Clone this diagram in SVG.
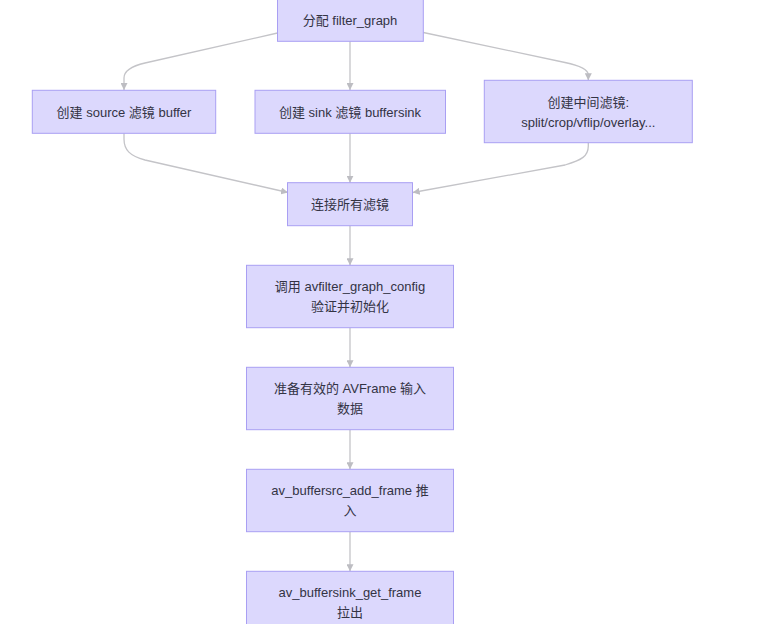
<svg xmlns="http://www.w3.org/2000/svg" width="760" height="624" viewBox="0 0 760 624">
<style>
.node rect{fill:#dcd8fd;stroke:#a99ff3;stroke-width:1}
.node text{font-family:"Liberation Sans","Noto Sans CJK SC",sans-serif;font-size:13px;fill:#333344;text-anchor:middle;dominant-baseline:central}
.edges path{fill:none;stroke:#c4c4c8;stroke-width:1.3}
</style>
<defs>
<marker id="arr" viewBox="0 0 10 10" refX="10" refY="5" markerWidth="7" markerHeight="7" markerUnits="userSpaceOnUse" orient="auto">
<path d="M0,0 L10,5 L0,10 z" fill="#bdbdc2"/>
</marker>
</defs>
<rect width="760" height="624" fill="#ffffff"/>
<g class="edges">
<path d="M277.5,33 L145,63 C130,66.5 124,71 124,78 L124,90" marker-end="url(#arr)"/>
<path d="M350,41.3 L350,90" marker-end="url(#arr)"/>
<path d="M423.3,32.5 L565,62.5 C582,66 588.3,70 588.3,75 L588.3,80.3" marker-end="url(#arr)"/>
<path d="M124,133.3 L124,139 C124,150 130,156 145,160 L288,192.5" marker-end="url(#arr)"/>
<path d="M588.3,142.7 L588.3,146 C588.3,156 582,160 565,165 L412.7,192.5" marker-end="url(#arr)"/>
<path d="M350,133.3 L350,182.7" marker-end="url(#arr)"/>
<path d="M350,225.7 L350,265.3" marker-end="url(#arr)"/>
<path d="M350,327.7 L350,367.3" marker-end="url(#arr)"/>
<path d="M350,429.7 L350,469.3" marker-end="url(#arr)"/>
<path d="M350,531.7 L350,571.3" marker-end="url(#arr)"/>
</g>
<g id="n1" class="node"><rect x="277.5" y="-1.7" width="145.8" height="43"/><text x="350" y="20">分配 filter_graph</text></g>
<g id="n2" class="node"><rect x="32.3" y="90.3" width="183.4" height="43"/><text x="124" y="112">创建 source 滤镜 buffer</text></g>
<g id="n3" class="node"><rect x="255" y="90.3" width="190.5" height="43"/><text x="350" y="112">创建 sink 滤镜 buffersink</text></g>
<g id="n4" class="node"><rect x="484.3" y="80.3" width="208" height="62.4"/><text x="588.3" y="102">创建中间滤镜:</text><text x="588.3" y="122">split/crop/vflip/overlay...</text></g>
<g id="n5" class="node"><rect x="287.5" y="182.7" width="125" height="43"/><text x="350" y="204.5">连接所有滤镜</text></g>
<g id="n6" class="node"><rect x="246.5" y="265.3" width="207" height="62.4"/><text x="350" y="286.7">调用 avfilter_graph_config</text><text x="350" y="306.7">验证并初始化</text></g>
<g id="n7" class="node"><rect x="246.5" y="367.3" width="207" height="62.4"/><text x="350" y="388.7">准备有效的 AVFrame 输入</text><text x="350" y="408.7">数据</text></g>
<g id="n8" class="node"><rect x="246.5" y="469.3" width="207" height="62.4"/><text x="350" y="490.7">av_buffersrc_add_frame 推</text><text x="350" y="510.7">入</text></g>
<g id="n9" class="node"><rect x="246.5" y="571.3" width="207" height="62.4"/><text x="350" y="592.7">av_buffersink_get_frame</text><text x="350" y="612.7">拉出</text></g>
</svg>
